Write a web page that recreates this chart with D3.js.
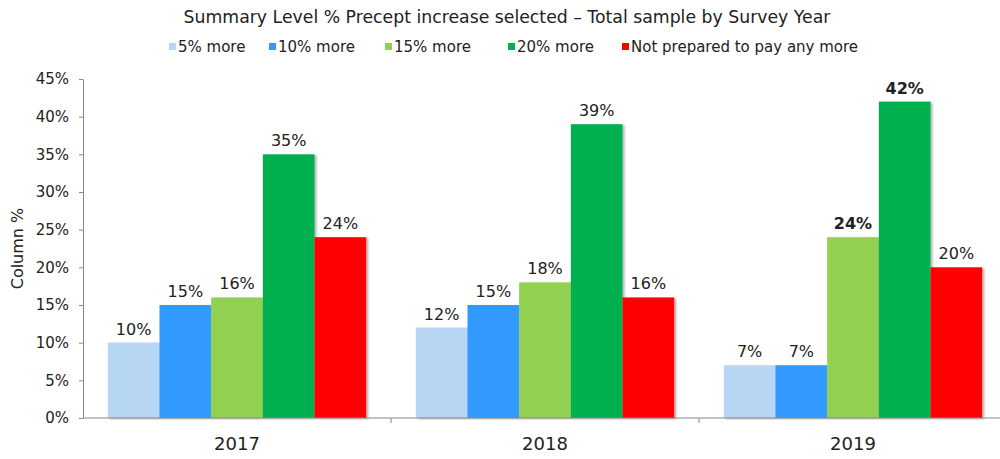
<!DOCTYPE html>
<html>
<head>
<meta charset="utf-8">
<script src="https://cdn.jsdelivr.net/npm/d3@7"></script>
<style>
  body { margin: 0; background: #fff; }
  text { font-family: "DejaVu Sans", sans-serif; fill: #222; }
</style>
</head>
<body>
<svg id="chart" width="1000" height="459"></svg>
<script>
const years = ['2017', '2018', '2019'];
const seriesNames = ['5% more', '10% more', '15% more', '20% more', 'Not prepared to pay any more'];
const seriesColors = ['#B7D6F4', '#3399FF', '#92D050', '#00B050', '#FF0000'];
// values per year, in series order
const values2017 = [10, 15, 16, 35, 24];
const values2018 = [12, 15, 18, 39, 16];
const values2019 = [7, 7, 24, 42, 20];
const boldLabels2019 = [false, false, true, true, false];
const yTicks = [0, 5, 10, 15, 20, 25, 30, 35, 40, 45];

const rows = [values2017, values2018, values2019];
const data = [];
rows.forEach((vals, i) => vals.forEach((v, j) => data.push({
    year: years[i], series: seriesNames[j], value: v,
    bold: i === 2 ? boldLabels2019[j] : false,
})));

const svg = d3.select('#chart');
const margin = { left: 83, right: -7, top: 79, bottom: 41 };
const width = 1000, height = 459;

const x = d3.scaleBand().domain(years).range([margin.left, width - margin.right]).paddingInner(0).paddingOuter(0);
const xs = d3.scaleBand().domain(seriesNames).range([0, x.bandwidth()]).paddingOuter(0.48).paddingInner(0);
const y = d3.scaleLinear().domain([0, 45]).range([height - margin.bottom, margin.top]);

// shadow filter
const defs = svg.append('defs');
const filt = defs.append('filter').attr('id', 'shadow').attr('x', '-10%').attr('y', '-10%').attr('width', '130%').attr('height', '120%');
filt.append('feDropShadow').attr('dx', 2).attr('dy', 1).attr('stdDeviation', 1.2)
    .attr('flood-color', '#000').attr('flood-opacity', 0.3);

// Title
svg.append('text').attr('x', 507).attr('y', 23).attr('text-anchor', 'middle')
    .style('font-size', '17.3px')
    .text('Summary Level % Precept increase selected \u2013 Total sample by Survey Year');

// Legend
const legendX = [169, 269, 385, 508, 622];
const legend = svg.append('g').selectAll('g').data(seriesNames).enter().append('g')
    .attr('transform', (d, i) => `translate(${legendX[i]},47)`);
legend.append('rect').attr('x', 0).attr('y', -4).attr('width', 7).attr('height', 7)
    .attr('fill', (d, i) => seriesColors[i]);
legend.append('text').attr('x', 9).attr('y', 5).style('font-size', '15px').text(d => d);

// Y axis
const yAxis = d3.axisLeft(y).tickValues(yTicks).tickFormat(d => d + '%').tickSize(4).tickSizeOuter(0);
const gy = svg.append('g').attr('transform', `translate(${margin.left},0)`).call(yAxis);
gy.select('.domain').attr('stroke', '#888');
gy.selectAll('.tick line').attr('stroke', '#888');
gy.selectAll('.tick text').attr('x', -14).style('font-size', '15px').style('font-family', null).attr('fill', '#222');

svg.append('text').attr('transform', `translate(23,${(y(0) + y(45)) / 2}) rotate(-90)`)
    .attr('text-anchor', 'middle').style('font-size', '16px').text('Column %');

// Bars
svg.append('g').selectAll('rect').data(data).enter().append('rect')
    .attr('x', d => x(d.year) + xs(d.series))
    .attr('y', d => y(d.value))
    .attr('width', xs.bandwidth())
    .attr('height', d => y(0) - y(d.value))
    .attr('fill', d => seriesColors[seriesNames.indexOf(d.series)])
    .attr('filter', 'url(#shadow)');

// Data labels
svg.append('g').selectAll('text').data(data).enter().append('text')
    .attr('x', d => x(d.year) + xs(d.series) + xs.bandwidth() / 2)
    .attr('y', d => y(d.value) - 8)
    .attr('text-anchor', 'middle')
    .style('font-size', '16px')
    .style('font-weight', d => d.bold ? 'bold' : 'normal')
    .text(d => d.value + '%');

// X axis
const gx = svg.append('g').attr('transform', `translate(0,${y(0)})`);
gx.append('line').attr('x1', margin.left).attr('x2', width).attr('y1', 0).attr('y2', 0).attr('stroke', '#888');
gx.selectAll('line.tick').data(years.slice(1)).enter().append('line').attr('class', 'tick')
    .attr('x1', d => x(d)).attr('x2', d => x(d)).attr('y1', 0).attr('y2', 5).attr('stroke', '#888');
gx.selectAll('text').data(years).enter().append('text')
    .attr('x', d => x(d) + x.bandwidth() / 2).attr('y', 32)
    .attr('text-anchor', 'middle').style('font-size', '18px').text(d => d);
</script>
</body>
</html>
